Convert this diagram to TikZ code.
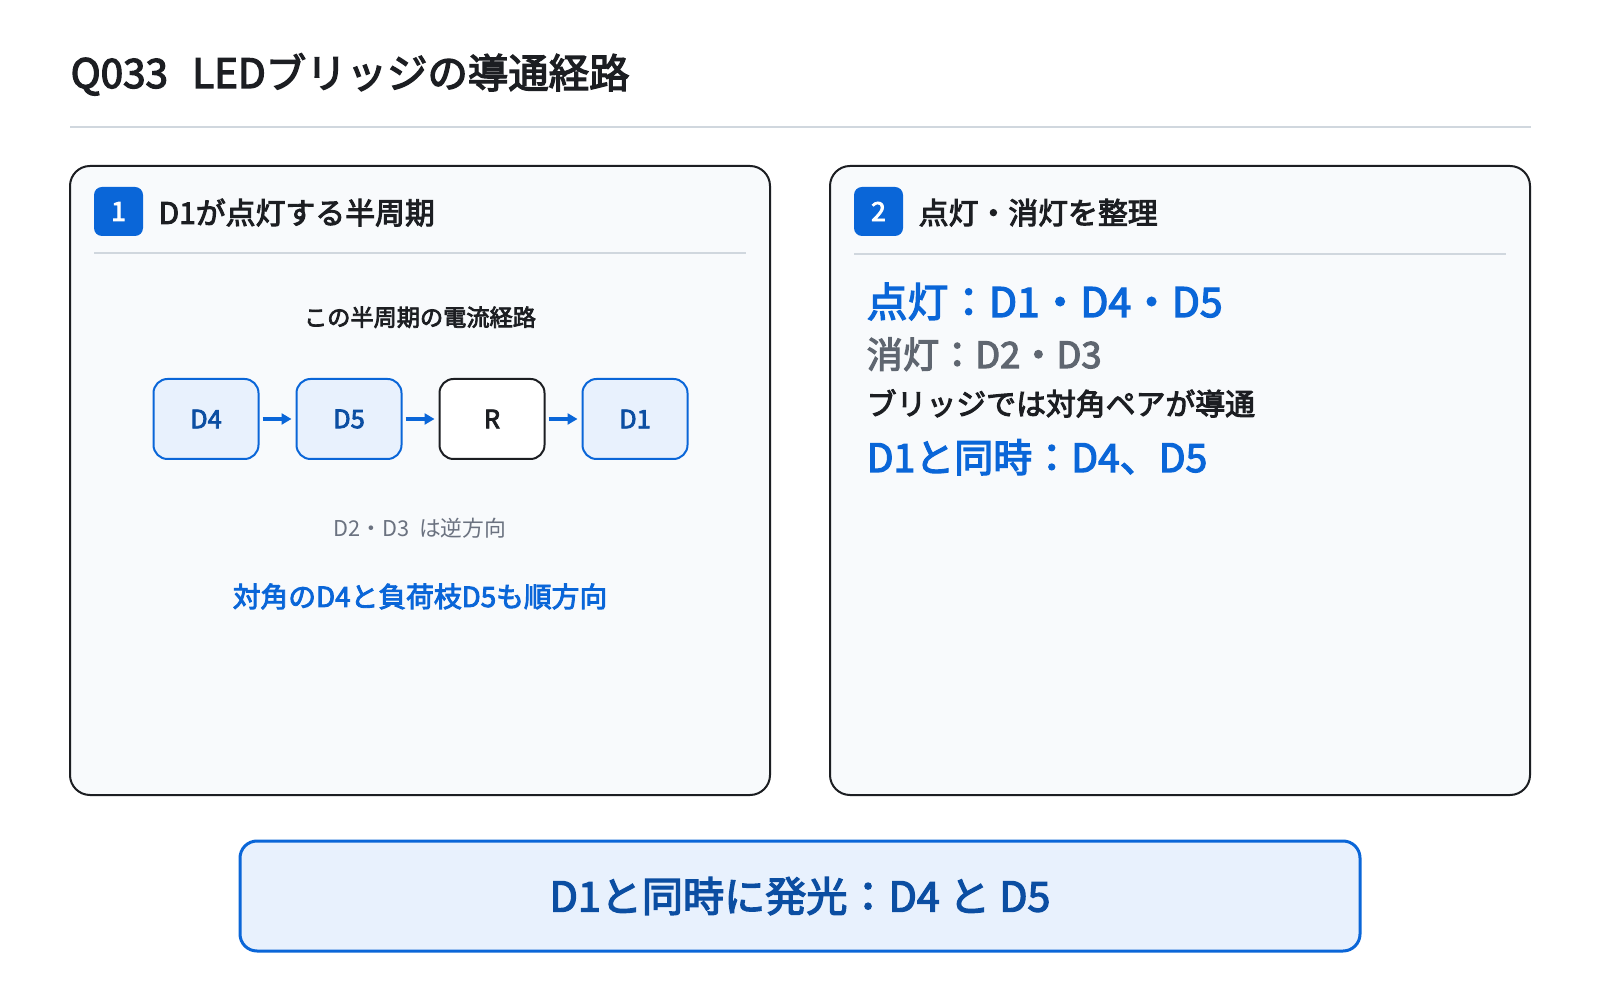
\documentclass[tikz,border=0pt]{standalone}
\usepackage{fontspec}
\setmainfont{Noto Sans CJK JP}[BoldFont={Noto Sans CJK JP},BoldFeatures={FakeBold=3.2}]
\usetikzlibrary{positioning}
\usetikzlibrary{arrows.meta}

\definecolor{mainblue}{RGB}{10,102,216}
\definecolor{darkblue}{RGB}{11,78,162}
\definecolor{lightfill}{RGB}{232,241,253}
\definecolor{panelfill}{RGB}{248,250,252}
\definecolor{rulegray}{RGB}{208,215,222}
\definecolor{inkdark}{RGB}{28,30,34}
\definecolor{graytext}{RGB}{107,114,128}
\definecolor{offgray}{RGB}{95,102,112}

\begin{document}
\begin{tikzpicture}[
  panel/.style={draw=inkdark,line width=0.02cm,fill=panelfill,rounded corners=0.2cm},
  headrule/.style={draw=rulegray,line width=0.02cm},
  badge/.style={fill=mainblue,rounded corners=0.08cm,minimum width=0.49cm,minimum height=0.49cm,inner sep=0pt,text=white,font=\bfseries\fontsize{7.5}{8}\selectfont},
  headtext/.style={anchor=base west,inner sep=0pt,text=inkdark,font=\bfseries\fontsize{8.5}{10}\selectfont},
  flownode/.style={draw=mainblue,fill=lightfill,line width=0.02cm,rounded corners=0.14cm,minimum width=1.05cm,minimum height=0.8cm,inner sep=0pt,text=darkblue,font=\bfseries\fontsize{7.2}{8}\selectfont},
  flowarrow/.style={mainblue,line width=0.04cm,-{Triangle[length=0.1cm,width=0.11cm]},shorten <=0.03cm,shorten >=0.04cm},
  line/.style={anchor=base west,inner sep=0pt}
]
\fill[white] (0,0) rectangle (16,-10);
\useasboundingbox (0,0) rectangle (16,-10);

% title
\node[anchor=base west,inner sep=0pt,text=inkdark,font=\bfseries\fontsize{11.5}{14}\selectfont] (title) at (0.70,-0.88) {Q033\hspace{0.6em}LEDブリッジの導通経路};
\draw[headrule] (0.70,-1.27) -- (15.31,-1.27);

% two panels
\draw[panel] (0.70,-1.66) rectangle (7.70,-7.95);
\draw[panel] (8.30,-1.66) rectangle (15.30,-7.95);

% panel 1
\node[badge] (badgeA) at (1.185,-2.115) {1};
\node[headtext] (headA) at (1.58,-2.24) {D1が点灯する半周期};
\draw[headrule] (0.94,-2.53) -- (7.46,-2.53);

\node[anchor=base,inner sep=0pt,text=inkdark,font=\bfseries\fontsize{6.6}{8}\selectfont] (pathlabel) at (4.20,-3.26) {この半周期の電流経路};

\node[flownode] (d4) at (2.06,-4.19) {D4};
\node[flownode,right=0.36cm of d4] (d5) {D5};
\node[flownode,right=0.36cm of d5,draw=inkdark,fill=white,text=inkdark] (r) {R};
\node[flownode,right=0.36cm of r] (d1) {D1};
\draw[flowarrow] (d4) -- (d5);
\draw[flowarrow] (d5) -- (r);
\draw[flowarrow] (r) -- (d1);

\node[anchor=base,inner sep=0pt,text=graytext,font=\fontsize{6.2}{8}\selectfont] (revnote) at (4.20,-5.37) {D2・D3\hspace{0.2em} は逆方向};
\node[anchor=base,inner sep=0pt,text=mainblue,font=\bfseries\fontsize{7.9}{9}\selectfont] (fwdnote) at (4.20,-6.07) {対角のD4と負荷枝D5も順方向};

% panel 2
\node[badge] (badgeB) at (8.785,-2.115) {2};
\node[headtext] (headB) at (9.18,-2.24) {点灯・消灯を整理};
\draw[headrule] (8.54,-2.54) -- (15.06,-2.54);

\node[line,text=mainblue,font=\bfseries\fontsize{11.6}{13}\selectfont] (onlist) at (8.66,-3.17) {点灯：D1・D4・D5};
\node[line,text=offgray,font=\bfseries\fontsize{10.3}{12}\selectfont] (offlist) at (8.66,-3.68) {消灯：D2・D3};
\node[line,text=inkdark,font=\bfseries\fontsize{8.5}{10}\selectfont] (pairnote) at (8.66,-4.15) {ブリッジでは対角ペアが導通};
\node[line,text=mainblue,font=\bfseries\fontsize{11.1}{13}\selectfont] (samelist) at (8.66,-4.72) {D1と同時：D4、D5};

% summary
\node[draw=mainblue,line width=0.03cm,fill=lightfill,rounded corners=0.17cm,minimum width=11.2cm,minimum height=1.1cm,text=darkblue,font=\bfseries\fontsize{11.7}{14}\selectfont] (summary) at (8.00,-8.96) {D1と同時に発光：D4 と D5};

\end{tikzpicture}
\end{document}
